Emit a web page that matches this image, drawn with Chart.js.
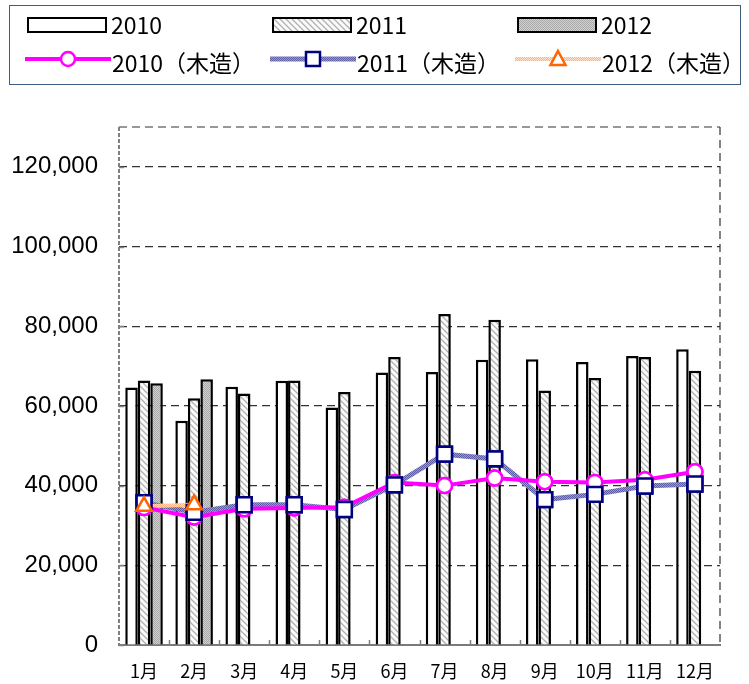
<!DOCTYPE html>
<html><head><meta charset="utf-8">
<script src="https://cdn.jsdelivr.net/npm/chart.js@4/dist/chart.umd.min.js"></script>
<style>
html,body{margin:0;padding:0;background:#fff;}
#wrap{position:relative;width:749px;height:684px;overflow:hidden;background:#fff;}
#c{position:absolute;left:0;top:0;}
#legendBox{position:absolute;left:9px;top:5px;width:732px;height:80px;border:1.5px solid #3f5f82;box-sizing:border-box;}
.sw{position:absolute;}
.lab{position:absolute;font-family:"Noto Sans CJK JP";font-size:23px;line-height:24px;white-space:nowrap;color:#000;}
</style></head>
<body>
<div id="wrap">
<canvas id="c" width="749" height="684"></canvas>
<div id="legendBox"></div>
</div>
<script>
// ---- data ----
const months = ['1月','2月','3月','4月','5月','6月','7月','8月','9月','10月','11月','12月'];
const seriesNames = ['2010','2011','2012','2010（木造）','2011（木造）','2012（木造）'];
const bars2010 = [64600, 56300, 64800, 66300, 59600, 68400, 68500, 71600, 71700, 71000, 72500, 74200];
const bars2011 = [66400, 61900, 63100, 66400, 63500, 72300, 83100, 81600, 63900, 67000, 72300, 68800];
const bars2012 = [65700, 66700, null, null, null, null, null, null, null, null, null, null];
const wood2010 = [34500, 32100, 34200, 34400, 34600, 40800, 40000, 41900, 41000, 40800, 41500, 43500];
const wood2011 = [35700, 33300, 35200, 35200, 34000, 40200, 47900, 46700, 36500, 37800, 39900, 40400];
const wood2012 = [34800, 35200, null, null, null, null, null, null, null, null, null, null];
const yTicks = [0, 20000, 40000, 60000, 80000, 100000, 120000];

// ---- patterns ----
function mkPattern(w, h, draw){
  const c = document.createElement('canvas'); c.width = w; c.height = h;
  const x = c.getContext('2d'); draw(x);
  return document.createElement('canvas').getContext('2d').createPattern(c, 'repeat');
}
const hatch = mkPattern(6, 6, x => {
  x.fillStyle = '#fbfbfb'; x.fillRect(0,0,6,6);
  x.strokeStyle = '#b0b0b0'; x.lineWidth = 1.3;
  x.beginPath(); x.moveTo(-1,-1); x.lineTo(7,7); x.moveTo(-4,2); x.lineTo(4,10); x.moveTo(2,-4); x.lineTo(10,4); x.stroke();
});
const dots = mkPattern(2, 2, x => {
  x.fillStyle = '#d2d2d2'; x.fillRect(0,0,2,2);
  x.fillStyle = '#a8a8a8'; x.fillRect(0,0,1,1); x.fillRect(1,1,1,1);
});
const blueLine = mkPattern(2, 2, x => {
  x.fillStyle = '#9a9ad0'; x.fillRect(0,0,2,2);
  x.fillStyle = '#5c5ca4'; x.fillRect(0,0,1,1); x.fillRect(1,1,1,1);
});
const peachLine = mkPattern(2, 2, x => {
  x.fillStyle = '#ffe3cc'; x.fillRect(0,0,2,2);
  x.fillStyle = '#ffb27a'; x.fillRect(0,0,1,1); x.fillRect(1,1,1,1);
});

const frame = {
  id: 'frame',
  beforeDatasetsDraw(chart){
    const {ctx, chartArea: a, scales: {y}} = chart;
    ctx.save();
    ctx.strokeStyle = '#333'; ctx.lineWidth = 1.2; ctx.setLineDash([8,5]);
    ctx.beginPath(); ctx.moveTo(a.left, a.top); ctx.lineTo(a.right, a.top);
    ctx.moveTo(a.right, a.top); ctx.lineTo(a.right, a.bottom); ctx.stroke();
    ctx.strokeStyle = '#808080'; ctx.lineWidth = 2; ctx.setLineDash([4,2]);
    ctx.beginPath(); ctx.moveTo(a.left, a.top); ctx.lineTo(a.left, a.bottom); ctx.stroke();
    ctx.setLineDash([]); ctx.lineWidth = 1.5; ctx.strokeStyle = '#808080';
    ctx.beginPath();
    const cw = a.width / months.length;
    for (let i = 1; i < months.length; i++){
      const xx = Math.round(a.left + i*cw) + 0.5;
      ctx.moveTo(xx, a.bottom); ctx.lineTo(xx, a.bottom - 5);
    }
    yTicks.forEach(v => { const yy = Math.round(y.getPixelForValue(v)) + 0.5; ctx.moveTo(a.left, yy); ctx.lineTo(a.left + 5, yy); });
    ctx.stroke();
    ctx.restore();
  },
  // markers above all lines: circles, then squares, then triangles
  afterDatasetsDraw(chart){
    const ctx = chart.ctx;
    [3, 4, 5].forEach(i => {
      chart.getDatasetMeta(i).data.forEach(p => { if (!p.skip) p.draw(ctx, chart.chartArea); });
    });
  }
};

const chart = new Chart(document.getElementById('c').getContext('2d'), {
  type: 'bar',
  data: {
    labels: months,
    datasets: [
      {type:'bar', label:seriesNames[0], data:bars2010, backgroundColor:'#ffffff', borderColor:'#000', borderWidth:2.5, order:10},
      {type:'bar', label:seriesNames[1], data:bars2011, backgroundColor:hatch, borderColor:'#000', borderWidth:2.5, order:11},
      {type:'bar', label:seriesNames[2], data:bars2012, backgroundColor:dots, borderColor:'#000', borderWidth:2.5, order:12},
      {type:'line', label:seriesNames[3], data:wood2010, borderColor:'#ff00ff', borderWidth:4, tension:0,
        pointStyle:'circle', pointRadius:7.5, pointBorderWidth:2.5, pointBackgroundColor:'#fff', pointBorderColor:'#ff00ff', order:1},
      {type:'line', label:seriesNames[4], data:wood2011, borderColor:blueLine, borderWidth:5, tension:0,
        pointStyle:'rect', pointRadius:10.5, pointBorderWidth:2.5, pointBackgroundColor:'#fff', pointBorderColor:'#000080', order:3},
      {type:'line', label:seriesNames[5], data:wood2012, borderColor:peachLine, borderWidth:4, tension:0,
        pointStyle:'triangle', pointRadius:9, pointBorderWidth:2.5, pointBackgroundColor:'#fff', pointBorderColor:'#ff6600', order:2}
    ]
  },
  options: {
    responsive: false, animation: false, devicePixelRatio: 1,
    layout: {padding: {top:127, right:29, left:0, bottom:0}},
    plugins: {legend: {display:false}, tooltip: {enabled:false}},
    datasets: {bar: {categoryPercentage:0.75, barPercentage:1}},
    scales: {
      x: {
        grid: {display:false, drawTicks:false},
        border: {display:true, color:'#7a7a7a', width:2},
        ticks: {font:{family:'"Noto Sans CJK JP"', size:18}, color:'#000', padding:15, maxRotation:0, autoSkip:false},
        afterFit(s){ s.height = 39; }
      },
      y: {
        min: 0, max: 130000,
        ticks: {stepSize:20000, padding:21, color:'#000', font:{family:'"Liberation Sans", Arial, sans-serif', size:24},
          callback: v => v.toLocaleString('en-US')},
        grid: {color:'#333', lineWidth:1.2, drawTicks:false},
        border: {display:false, dash:[8,5]},
        afterBuildTicks(s){ s.ticks = yTicks.map(v => ({value:v})); },
        afterFit(s){ s.width = 119; }
      }
    }
  },
  plugins: [frame]
});

// ---- legend (HTML text, canvas swatches) ----
const wrap = document.getElementById('wrap');
function swatch(left, top, w, h, draw){
  const c = document.createElement('canvas'); c.width = w; c.height = h; c.className = 'sw';
  c.style.left = left + 'px'; c.style.top = top + 'px';
  draw(c.getContext('2d'), w, h); wrap.appendChild(c);
}
function label(left, top, text){
  const d = document.createElement('div'); d.className = 'lab'; d.textContent = text;
  d.style.left = left + 'px'; d.style.top = top + 'px'; wrap.appendChild(d);
}
const colX = [27, 272, 517];
const fills = ['#ffffff', hatch, dots];
for (let i = 0; i < 3; i++){
  swatch(colX[i], 17, 80, 16, (x, w, h) => {
    x.fillStyle = fills[i]; x.fillRect(1, 1, w-2, h-2);
    x.strokeStyle = '#000'; x.lineWidth = 2; x.strokeRect(1, 1, w-2, h-2);
  });
  label(colX[i] + 84, 12, seriesNames[i]);
}
const lineStyles = [
  {c:'#ff00ff', w:4, m:'circle', mc:'#ff00ff'},
  {c:blueLine, w:5, m:'rect', mc:'#000080'},
  {c:peachLine, w:4, m:'triangle', mc:'#ff6600'}
];
const rowX = [25, 270, 515];
for (let i = 0; i < 3; i++){
  const s = lineStyles[i];
  swatch(rowX[i], 48, 86, 22, (x, w, h) => {
    x.strokeStyle = s.c; x.lineWidth = s.w;
    x.beginPath(); x.moveTo(0, h/2); x.lineTo(w, h/2); x.stroke();
    x.fillStyle = '#fff'; x.strokeStyle = s.mc; x.lineWidth = 2.5;
    const cx = w/2, cy = h/2;
    x.beginPath();
    if (s.m === 'circle') x.arc(cx, cy, 7, 0, Math.PI*2);
    else if (s.m === 'rect') x.rect(cx-7, cy-7, 14, 14);
    else { x.moveTo(cx, cy-8); x.lineTo(cx+7.5, cy+6); x.lineTo(cx-7.5, cy+6); x.closePath(); }
    x.fill(); x.stroke();
  });
  label(rowX[i] + 87, 50, seriesNames[3+i]);
}
</script>
</body></html>
